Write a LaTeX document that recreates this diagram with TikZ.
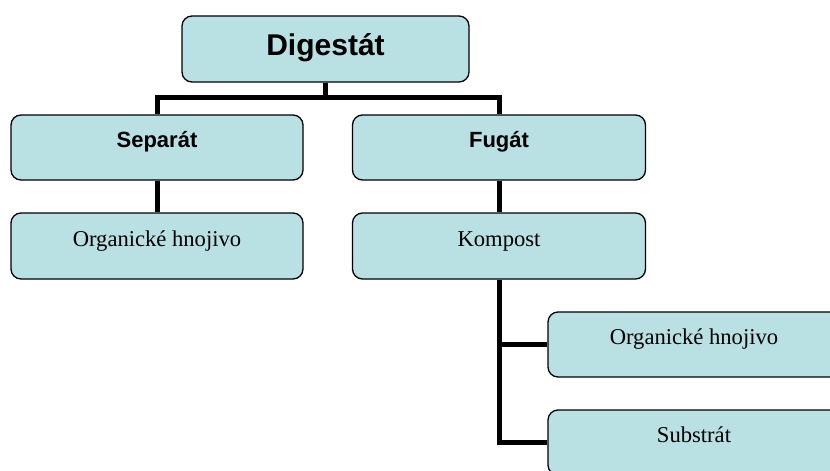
\documentclass[tikz,border=0pt]{standalone}
\usepackage{fontspec}
\setmainfont{Liberation Serif}
\newfontfamily\headfont{Liberation Sans}
\usepackage{tikz}
\usetikzlibrary{calc}

\definecolor{boxfill}{RGB}{185,224,227}

\tikzset{
  box/.style={draw=black, line width=1.3pt, fill=boxfill, rounded corners=10pt,
    minimum width=292pt, minimum height=65pt, inner sep=0pt,
    text height=0pt, text depth=0pt, font=\fontsize{22.6}{26}\selectfont},
  headbox/.style={box, font=\headfont\bfseries\fontsize{22}{26}\selectfont},
  conn/.style={line width=5pt, line join=miter}
}

\begin{document}
\begin{tikzpicture} [x=1pt, y=-1pt]

\useasboundingbox (0,0) rectangle (830,471);

\node [headbox, minimum width=287pt, minimum height=66pt, text height=12pt,
  font=\headfont\bfseries\fontsize{30}{34}\selectfont] (dig) at (325.5,49) {Digestát};

\node [headbox] (sep) at (157,147.5) {Separát};
\node [headbox, minimum width=293pt] (fug) at (499,147.5) {Fugát};

\node [box, minimum height=66pt] (org) at (157,246) {Organické hnojivo};
\node [box, minimum width=293pt, minimum height=66pt] (komp) at (499,246) {Kompost};

\node [box] (orgk) at (694,344.5) {Organické hnojivo};
\node [box] (sub) at (694,442.5) {Substrát};

\coordinate (bar) at ($(dig.south)+(0,15)$);

\draw[conn] (dig.south) -- (bar);
\draw[conn] (sep.north) |- (bar) -| (fug.north);
\draw[conn] (sep.south) -- (org.north);
\draw[conn] (fug.south) -- (komp.north);
\draw[conn] (komp.south) |- (orgk.west);
\draw[conn] (komp.south) |- (sub.west);

\end{tikzpicture}
\end{document}
